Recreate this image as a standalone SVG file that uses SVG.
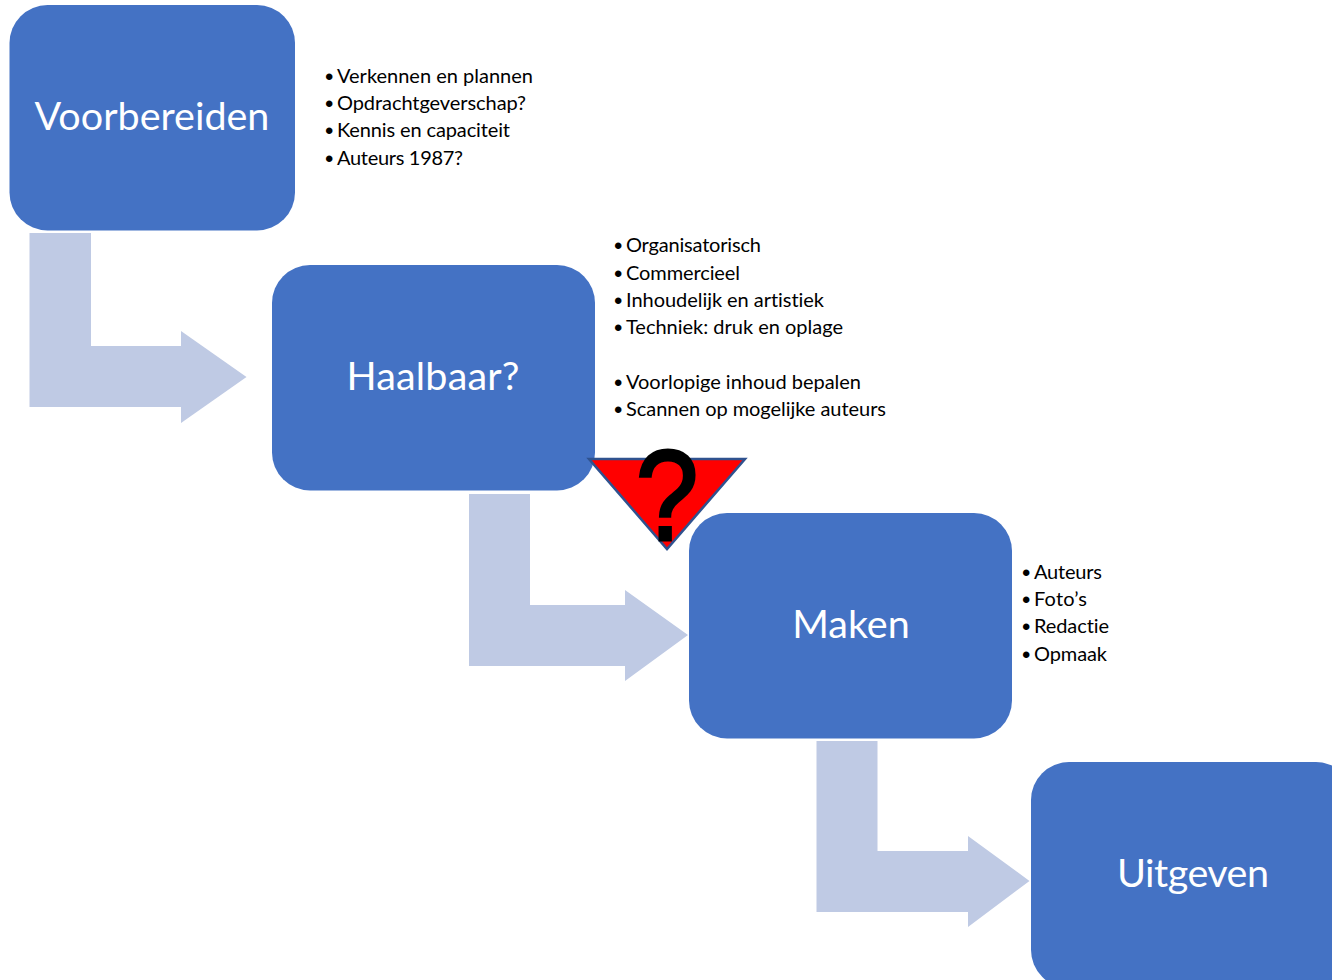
<svg xmlns="http://www.w3.org/2000/svg" width="1332" height="980" viewBox="0 0 1332 980">
<style>
.box{fill:#4472c4}
.arrow{fill:#bfcae4}
.title{font-family:"Lato","Open Sans",sans-serif;font-size:39.500px;fill:#fff;text-anchor:middle;font-variant-ligatures:none}
.li{font-family:"Lato","Open Sans",sans-serif;font-size:20px;fill:#000;font-variant-ligatures:none}
.bu{font-family:"Liberation Sans",sans-serif;font-size:24px;fill:#000}
</style>
<rect width="1332" height="980" fill="#fff"/>
<g id="connectors">
<path class="arrow" d="M29.500 233H91V346H181V331L246.500 377L181 423V407H29.500Z"/>
<path class="arrow" d="M469 494H530V605H625V590L688 635L625 681V666H469Z"/>
<path class="arrow" d="M816.500 741H877.500V851H968V836L1029.500 881L968 927V912H816.500Z"/>
</g>
<g id="voorbereiden"><rect class="box" x="9.500" y="5" width="285.500" height="225.500" rx="38"/><text class="title" x="152" y="130">Voorbereiden</text></g>
<g id="haalbaar"><rect class="box" x="272" y="265" width="323" height="225.500" rx="38"/><text class="title" x="433" y="390" textLength="173">Haalbaar?</text></g>
<g id="warning">
<path d="M589 459H745L667 549Z" fill="#f00" stroke="#2f528f" stroke-width="2.500"/>
<text transform="translate(667 540) scale(0.88 1)" x="0" y="0" font-family="Liberation Sans,sans-serif" font-size="128" text-anchor="middle" fill="#000" stroke="#000" stroke-width="3">?</text>
</g>
<g id="maken"><rect class="box" x="689" y="513" width="323" height="225.500" rx="38"/><text class="title" x="851" y="638">Maken</text></g>
<g id="uitgeven"><rect class="box" x="1031" y="762" width="323" height="226" rx="38"/><text class="title" x="1193" y="887" textLength="152">Uitgeven</text></g>
<g id="list1">
<text class="bu" x="325" y="85">•</text><text class="li" x="337" y="83" textLength="196">Verkennen en plannen</text>
<text class="bu" x="325" y="112">•</text><text class="li" x="337" y="110" textLength="189">Opdrachtgeverschap?</text>
<text class="bu" x="325" y="139">•</text><text class="li" x="337" y="137" textLength="173">Kennis en capaciteit</text>
<text class="bu" x="325" y="167">•</text><text class="li" x="337" y="165" textLength="126">Auteurs 1987?</text>
</g>
<g id="list2">
<text class="bu" x="614" y="254">•</text><text class="li" x="626" y="252" textLength="135">Organisatorisch</text>
<text class="bu" x="614" y="282">•</text><text class="li" x="626" y="280" textLength="114">Commercieel</text>
<text class="bu" x="614" y="309">•</text><text class="li" x="626" y="307" textLength="198">Inhoudelijk en artistiek</text>
<text class="bu" x="614" y="336">•</text><text class="li" x="626" y="334" textLength="217">Techniek: druk en oplage</text>
<text class="bu" x="614" y="391">•</text><text class="li" x="626" y="389" textLength="235">Voorlopige inhoud bepalen</text>
<text class="bu" x="614" y="418">•</text><text class="li" x="626" y="416" textLength="260">Scannen op mogelijke auteurs</text>
</g>
<g id="list3">
<text class="bu" x="1022" y="581">•</text><text class="li" x="1034" y="579" textLength="68">Auteurs</text>
<text class="bu" x="1022" y="608">•</text><text class="li" x="1034" y="606" textLength="53">Foto’s</text>
<text class="bu" x="1022" y="635">•</text><text class="li" x="1034" y="633" textLength="75">Redactie</text>
<text class="bu" x="1022" y="663">•</text><text class="li" x="1034" y="661" textLength="73">Opmaak</text>
</g>
</svg>
